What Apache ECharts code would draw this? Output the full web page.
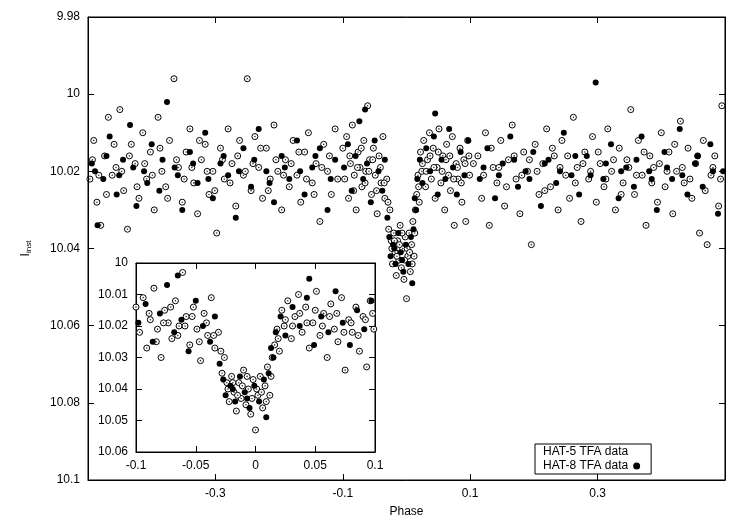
<!DOCTYPE html>
<html><head><meta charset="utf-8">
<script src="https://cdn.jsdelivr.net/npm/echarts@6/dist/echarts.min.js"></script>
<style>html,body{margin:0;background:#fff}#c{width:750px;height:525px}</style>
</head><body><div id="c"></div>
<script>
const mainXTicks=[-0.4,-0.2,0,0.2,0.4];
const mainYTicks=[9.98,10,10.02,10.04,10.06,10.08,10.1];
const insetXTicks=[-0.1,-0.05,0,0.05,0.1];
const insetYTicks=[10,10.01,10.02,10.03,10.04,10.05,10.06];
const hat5=[
[-0.497,10.022],[-0.491,10.012],[-0.486,10.028],[-0.48,10.034],[-0.474,10.016],[-0.468,10.006],[-0.462,10.021],[-0.456,10.019],[-0.45,10.004],[-0.444,10.025],[-0.438,10.035],[-0.432,10.013],[-0.426,10.018],[-0.42,10.027],[-0.414,10.01],[-0.408,10.022],[-0.402,10.015],[-0.396,10.03],[-0.39,10.006],[-0.384,10.02],[-0.378,10.024],[-0.372,10.012],[-0.365,9.996],[-0.358,10.019],[-0.352,10.028],[-0.346,10.015],[-0.34,10.009],[-0.334,10.023],[-0.328,10.031],[-0.322,10.017],[-0.316,10.013],[-0.31,10.026],[-0.304,10.02],[-0.298,10.036],[-0.292,10.014],[-0.286,10.022],[-0.28,10.009],[-0.274,10.018],[-0.268,10.029],[-0.262,10.012],[-0.256,10.021],[-0.25,9.996],[-0.244,10.025],[-0.238,10.011],[-0.232,10.019],[-0.226,10.027],[-0.22,10.014],[-0.214,10.022],[-0.208,10.008],[-0.202,10.02],[-0.196,10.03],[-0.19,10.017],[-0.184,10.024],[-0.178,10.012],[-0.172,10.021],[-0.166,10.028],[-0.16,10.015],[-0.154,10.01],[-0.148,10.023],[-0.142,10.018],[-0.136,10.033],[-0.13,10.013],[-0.124,10.02],[-0.118,10.026],[-0.112,10.009],
[-0.1,10.014],[-0.097,10.022],[-0.094,10.011],[-0.091,10.027],[-0.088,10.018],[-0.085,10.008],[-0.082,10.021],[-0.079,10.03],[-0.076,10.015],[-0.073,10.019],[-0.07,10.024],[-0.067,10.012],[-0.064,10.02],[-0.061,10.003],[-0.058,10.017],[-0.055,10.026],[-0.052,10.014],[-0.049,10.021],[-0.046,10.031],[-0.043,10.016],[-0.04,10.023],[-0.037,10.011],[-0.034,10.027],[-0.031,10.022],[-0.028,10.035],[-0.026,10.03],[-0.024,10.038],[-0.022,10.044],[-0.02,10.036],[-0.018,10.041],[-0.016,10.047],[-0.014,10.038],[-0.012,10.043],[-0.01,10.034],[-0.008,10.045],[-0.006,10.04],[-0.004,10.048],[-0.002,10.037],[0,10.053],[0.002,10.042],[0.004,10.036],[0.006,10.046],[0.008,10.039],[0.01,10.033],[0.012,10.042],[0.014,10.03],[0.016,10.026],[0.018,10.021],[0.02,10.028],[0.022,10.015],[0.024,10.02],[0.027,10.012],[0.03,10.024],[0.033,10.017],[0.036,10.01],[0.039,10.022],[0.042,10.014],[0.045,10.027],[0.048,10.019],[0.051,10.009],[0.054,10.023],[0.057,10.016],[0.06,10.03],[0.063,10.013],[0.066,10.021],[0.069,10.025],[0.072,10.011],[0.075,10.034],[0.078,10.018],[0.081,10.022],[0.084,10.014],[0.087,10.028],[0.09,10.017],[0.093,10.033],[0.096,10.012],[0.099,10.021],
[0.112,10.016],[0.118,10.027],[0.124,10.01],[0.13,10.034],[0.136,10.019],[0.142,10.023],[0.148,10.012],[0.154,10.029],[0.16,10.017],[0.166,10.008],[0.172,10.022],[0.178,10.031],[0.184,10.015],[0.19,10.02],[0.196,10.039],[0.202,10.013],[0.208,10.026],[0.214,10.018],[0.22,10.009],[0.226,10.024],[0.232,10.016],[0.238,10.03],[0.244,10.012],[0.25,10.021],[0.256,10.027],[0.262,10.006],[0.268,10.019],[0.274,10.033],[0.28,10.015],[0.286,10.022],[0.292,10.011],[0.298,10.028],[0.304,10.018],[0.31,10.024],[0.316,10.009],[0.322,10.02],[0.328,10.03],[0.334,10.014],[0.34,10.023],[0.346,10.017],[0.352,10.004],[0.358,10.026],[0.364,10.012],[0.37,10.021],[0.376,10.034],[0.382,10.016],[0.388,10.019],[0.394,10.028],[0.4,10.01],[0.406,10.024],[0.412,10.015],[0.418,10.031],[0.424,10.02],[0.43,10.007],[0.436,10.023],[0.442,10.014],[0.448,10.027],[0.454,10.018],[0.46,10.036],[0.466,10.012],[0.472,10.039],[0.478,10.021],[0.484,10.016],[0.49,10.029],[0.495,10.003],
[-0.493,10.017],[-0.483,10.021],[-0.471,10.026],[-0.459,10.013],[-0.447,10.02],[-0.435,10.016],[-0.423,10.024],[-0.411,10.018],[-0.399,10.021],[-0.387,10.014],[-0.375,10.027],[-0.361,10.017],[-0.349,10.022],[-0.337,10.019],[-0.325,10.012],[-0.313,10.02],[-0.301,10.025],[-0.289,10.017],[-0.277,10.023],[-0.265,10.016],[-0.253,10.02],[-0.241,10.018],[-0.229,10.014],[-0.217,10.025],[-0.205,10.017],[-0.193,10.021],[-0.181,10.018],[-0.169,10.015],[-0.157,10.022],[-0.145,10.026],[-0.133,10.019],[-0.121,10.016],[-0.108,10.022],[0.105,10.018],[0.121,10.021],[0.133,10.014],[0.145,10.019],[0.157,10.024],[0.169,10.016],[0.181,10.021],[0.193,10.017],[0.205,10.02],[0.217,10.025],[0.229,10.014],[0.241,10.019],[0.253,10.016],[0.265,10.023],[0.277,10.018],[0.289,10.02],[0.301,10.015],[0.313,10.022],[0.325,10.017],[0.337,10.026],[0.349,10.019],[0.361,10.021],[0.373,10.015],[0.385,10.023],[0.397,10.018],[0.409,10.02],[0.421,10.013],[0.433,10.019],[0.445,10.022],[0.457,10.016],[0.469,10.025],[0.481,10.019],[0.493,10.022],
[-0.089,10.016],[-0.083,10.025],[-0.077,10.019],[-0.071,10.014],[-0.065,10.023],[-0.059,10.02],[-0.053,10.017],[-0.047,10.025],[-0.041,10.019],[-0.035,10.023],[-0.029,10.028],[-0.023,10.04],[-0.019,10.038],[-0.015,10.042],[-0.011,10.039],[-0.007,10.036],[-0.003,10.043],[0.001,10.04],[0.005,10.041],[0.009,10.044],[0.013,10.036],[0.019,10.024],[0.025,10.018],[0.031,10.02],[0.037,10.016],[0.043,10.019],[0.05,10.015],[0.056,10.02],[0.062,10.017],[0.068,10.016],[0.074,10.022],[0.08,10.019],[0.086,10.023],[0.092,10.018],[0.098,10.016]
];
const hat8=[
[-0.494,10.018],[-0.485,10.034],[-0.476,10.022],[-0.466,10.011],[-0.455,10.026],[-0.445,10.017],[-0.434,10.008],[-0.424,10.029],[-0.412,10.02],[-0.4,10.013],[-0.388,10.025],[-0.376,10.002],[-0.364,10.019],[-0.352,10.03],[-0.34,10.015],[-0.328,10.023],[-0.316,10.01],[-0.304,10.027],[-0.292,10.018],[-0.28,10.021],[-0.268,10.032],[-0.256,10.014],[-0.244,10.024],[-0.232,10.009],[-0.22,10.02],[-0.208,10.028],[-0.196,10.016],[-0.184,10.022],[-0.172,10.012],[-0.16,10.026],[-0.148,10.019],[-0.136,10.014],[-0.124,10.03],[-0.112,10.017],
[-0.098,10.019],[-0.092,10.013],[-0.086,10.025],[-0.08,10.016],[-0.074,10.007],[-0.068,10.022],[-0.062,10.018],[-0.056,10.028],[-0.05,10.012],[-0.044,10.02],[-0.038,10.025],[-0.034,10.017],[-0.03,10.032],[-0.027,10.037],[-0.025,10.042],[-0.021,10.039],[-0.017,10.044],[-0.013,10.036],[-0.009,10.041],[-0.005,10.046],[-0.001,10.039],[0.003,10.044],[0.007,10.037],[0.009,10.049],[0.011,10.035],[0.013,10.027],[0.017,10.022],[0.021,10.017],[0.025,10.023],[0.031,10.014],[0.037,10.02],[0.043,10.011],[0.049,10.026],[0.055,10.017],[0.061,10.022],[0.067,10.009],[0.073,10.019],[0.079,10.026],[0.085,10.015],[0.091,10.021],[0.097,10.012],
[0.115,10.022],[0.127,10.014],[0.139,10.027],[0.151,10.018],[0.163,10.011],[0.175,10.024],[0.187,10.02],[0.199,10.015],[0.211,10.029],[0.223,10.017],[0.235,10.023],[0.247,10.01],[0.259,10.021],[0.271,10.026],[0.283,10.016],[0.297,9.997],[0.309,10.022],[0.321,10.013],[0.333,10.027],[0.345,10.019],[0.357,10.024],[0.369,10.011],[0.381,10.02],[0.393,10.03],[0.405,10.015],[0.417,10.022],[0.429,10.009],[0.441,10.026],[0.453,10.018],[0.465,10.024],[0.477,10.013],[0.489,10.031],[0.497,10.02],
[-0.489,10.02],[-0.471,10.016],[-0.451,10.021],[-0.429,10.019],[-0.407,10.023],[-0.383,10.017],[-0.359,10.021],[-0.335,10.018],[-0.311,10.022],[-0.287,10.016],[-0.263,10.02],[-0.239,10.017],[-0.215,10.023],[-0.191,10.019],[-0.167,10.02],[-0.143,10.016],[-0.119,10.022],[0.121,10.019],[0.145,10.021],[0.169,10.017],[0.193,10.022],[0.217,10.018],[0.241,10.02],[0.265,10.016],[0.289,10.021],[0.313,10.018],[0.337,10.02],[0.361,10.017],[0.385,10.022],[0.409,10.019],[0.433,10.021],[0.457,10.016],[0.481,10.02],
[0.045,10.005],[-0.065,10.004],[-0.019,10.04],[-0.007,10.043],[0.015,10.03]
];
const F='Liberation Sans';
const tk={inside:true,length:6,lineStyle:{color:'#000'}};
function axX(min,max,iv,grid,name,ends){return [
 {type:'value',gridIndex:grid,min,max,interval:iv,axisLine:{onZero:false,lineStyle:{color:'#000'}},axisTick:tk,splitLine:{show:false},
  axisLabel:{color:'#000',fontFamily:F,fontSize:12,showMinLabel:ends,showMaxLabel:ends,formatter:v=>String(+v.toFixed(3))},name,nameLocation:'middle',nameGap:26,nameTextStyle:{color:'#000',fontFamily:F,fontSize:12},z:5},
 {type:'value',gridIndex:grid,position:'top',min,max,interval:iv,axisLine:{onZero:false,lineStyle:{color:'#000'}},axisTick:tk,axisLabel:{show:false},splitLine:{show:false},z:5}];}
function axY(min,max,iv,grid,name){return [
 {type:'value',gridIndex:grid,inverse:true,min,max,interval:iv,axisLine:{onZero:false,lineStyle:{color:'#000'}},axisTick:tk,splitLine:{show:false},
  axisLabel:{color:'#000',fontFamily:F,fontSize:12,formatter:v=>String(+v.toFixed(3))},name,nameLocation:'middle',nameGap:55,nameRotate:90,
  nameTextStyle:{color:'#000',fontFamily:F,fontSize:12,rich:{a:{fontFamily:F,fontSize:12,color:'#000'},b:{fontFamily:F,fontSize:8,color:'#000',verticalAlign:'bottom',padding:[6,0,0,0]}}},z:5},
 {type:'value',gridIndex:grid,position:'right',inverse:true,min,max,interval:iv,axisLine:{onZero:false,lineStyle:{color:'#000'}},axisTick:tk,axisLabel:{show:false},splitLine:{show:false},z:5}];}
function sc(name,data,xi,yi,open,z){
 const s=[{name,type:'scatter',xAxisIndex:xi,yAxisIndex:yi,data,symbol:'circle',symbolSize:6,clip:true,z,
  itemStyle:open?{color:'#fff',borderColor:'#000',borderWidth:1,opacity:1}:{color:'#000',opacity:1}}];
 if(open)s.push({type:'scatter',xAxisIndex:xi,yAxisIndex:yi,data,symbol:'circle',symbolSize:1.6,clip:true,z:z+0.1,silent:true,itemStyle:{color:'#000'}});
 return s;}
const chart=echarts.init(document.getElementById('c'));
chart.setOption({animation:false,backgroundColor:'#fff',
 grid:[{left:88,right:25,top:17,bottom:45,show:true,borderColor:'#000',z:0},
       {left:136,width:239,top:263,height:189,show:true,backgroundColor:'#fff',borderColor:'#000',z:3}],
 xAxis:[...axX(-0.5,0.5,0.2,0,'Phase',false),...axX(-0.1,0.1,0.05,1,'',true)],
 yAxis:[...axY(9.98,10.1,0.02,0,'{a|I}{b|inst}'),...axY(10,10.06,0.01,1,'')],
 legend:{left:535,top:444,width:182,orient:'vertical',align:'right',itemGap:2,padding:[2,10,2,8],borderColor:'#000',borderWidth:1,backgroundColor:'#fff',z:10,
  textStyle:{fontFamily:F,fontSize:12,color:'#000',width:130},itemWidth:7,itemHeight:7,
  data:[{name:'HAT-5 TFA data',icon:'emptyCircle'},{name:'HAT-8 TFA data',icon:'circle'}]},
 series:[...sc('HAT-5 TFA data',hat5,0,0,true,2),...sc('HAT-8 TFA data',hat8,0,0,false,2),
   ...sc('HAT-5 TFA data',hat5,2,2,true,6),...sc('HAT-8 TFA data',hat8,2,2,false,6)]
});
</script></body></html>
